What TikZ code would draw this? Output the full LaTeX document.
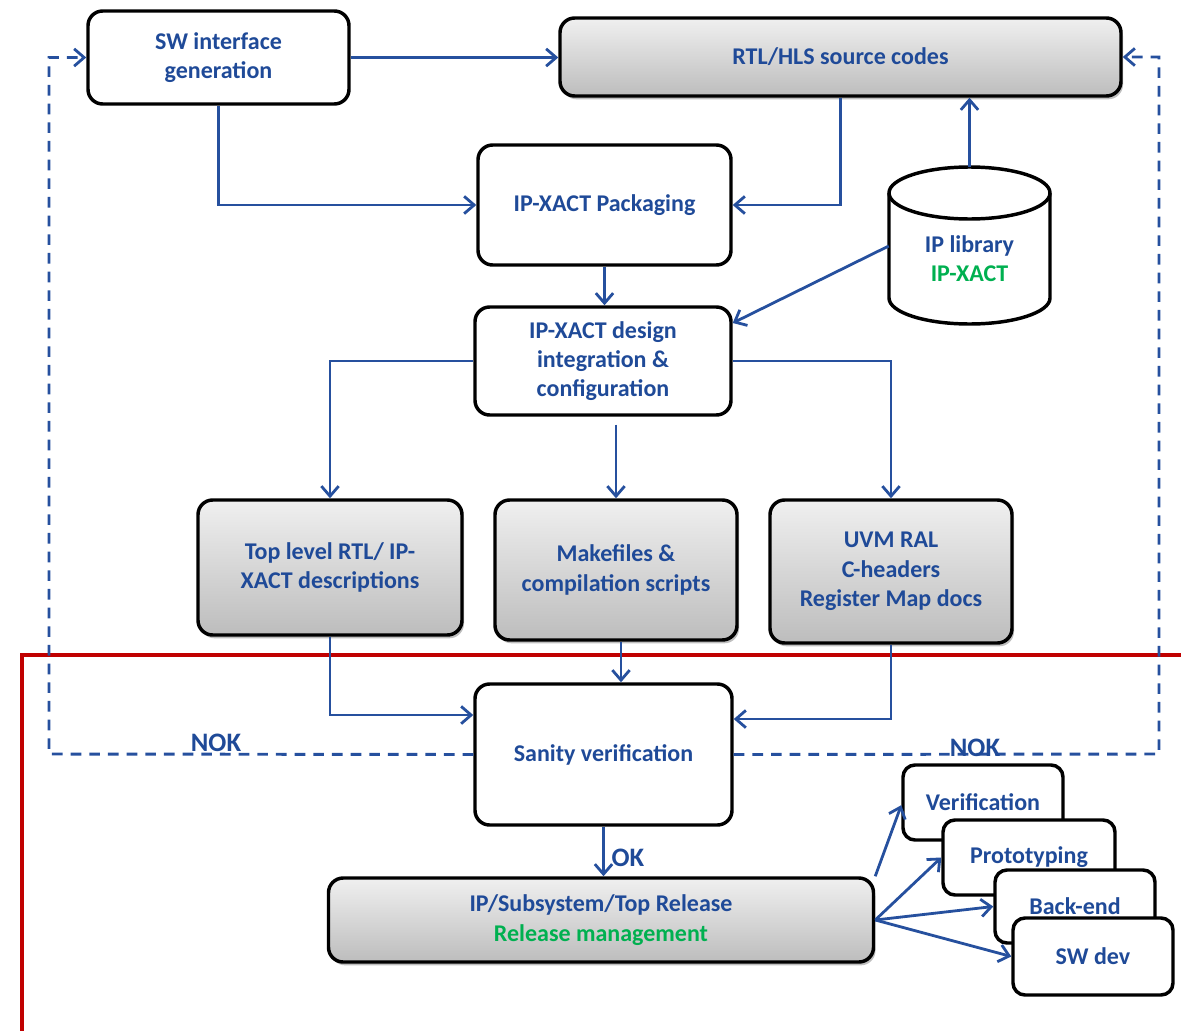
\documentclass[tikz,border=0pt]{standalone}
\usepackage{fontspec}
\setmainfont{Carlito}
\usetikzlibrary{arrows.meta,shadows,calc}
\definecolor{tblue}{HTML}{1F4A98}
\definecolor{lblue}{HTML}{26509E}
\definecolor{tgreen}{HTML}{00B050}
\definecolor{tred}{HTML}{C00000}
\begin{document}
\begin{tikzpicture}[x=0.75pt,y=-0.75pt,
  sz/.style 2 args={minimum width=#1*0.75pt, minimum height=#2*0.75pt},
  box/.style={draw=black, line width=2.6pt, rounded corners=11pt, fill=white,
    text=tblue, font=\fontsize{18}{22}\selectfont\bfseries, align=center, inner sep=0pt},
  gbox/.style={box, top color=gray!12, bottom color=gray!52,
    drop shadow={shadow xshift=1.5pt, shadow yshift=-2.5pt, fill=black, opacity=0.25}},
  sbox/.style={box, rounded corners=9pt},
  arr/.style={lblue, line width=2.1pt, -{Straight Barb[length=7.5pt,width=13pt,line width=2.1pt]}},
  dsh/.style={lblue, line width=2.2pt, dash pattern=on 8pt off 6pt, -{Straight Barb[length=7.5pt,width=13pt,line width=2.1pt]}},
  lbl/.style={text=tblue, font=\fontsize{20}{24}\selectfont\bfseries, inner sep=0pt, anchor=base}
]
\useasboundingbox (0,0) rectangle (1181,1031);

% red boundary
\draw[tred, line width=3pt] (22,1035) -- (22,655) -- (1185,655);

% nodes
\node[box, sz={261}{93}] (sw) at (218.5,57.5) {SW interface\\generation};
\node[gbox, sz={561}{78}] (rtl) at (840.5,57) {RTL/HLS source codes};
\node[box, sz={253}{120}] (pack) at (604.5,205) {IP-XACT Packaging};

% IP library cylinder
\node[sz={161}{157}, inner sep=0pt] (lib) at (969.5,246) {};
\draw[line width=2.6pt, fill=white] (889,193) -- (889,298)
  arc[start angle=180, end angle=360, x radius=60.375pt, y radius=19.5pt]
  -- (1050,193)
  arc[start angle=0, end angle=180, x radius=60.375pt, y radius=19.5pt] -- cycle;
\draw[line width=2.6pt] (889,193)
  arc[start angle=180, end angle=360, x radius=60.375pt, y radius=19.5pt];
\node[align=center, text=tblue, font=\fontsize{18}{22}\selectfont\bfseries, inner sep=0pt] (libtxt) at (969.5,258.5) {IP library\\\textcolor{tgreen}{IP-XACT}};

\node[box, sz={256}{108}] (des) at (603,361) {IP-XACT design\\integration \&\\configuration};
\node[gbox, sz={264}{135}] (top) at (330,567.5) {Top level RTL/ IP-\\XACT descriptions};
\node[gbox, sz={242}{140}] (make) at (616,570) {Makefiles \&\\compilation scripts};
\node[gbox, sz={242}{143}] (uvm) at (891,571.5) {UVM RAL\\C-headers\\Register Map docs};
\node[box, sz={257}{141}] (san) at (603.5,754.5) {Sanity verification};
\node[gbox, sz={545}{84}] (rel) at (601,920) {IP/Subsystem/Top Release\\\textcolor{tgreen}{Release management}};

\node[sbox, sz={160}{75}] (ver) at (983,802.5) {Verification};
\node[sbox, sz={172}{75}] (pro) at (1029,857.5) {Prototyping};
\node[sbox, sz={160}{73}] (back) at (1075,906.5) {Back-end};
\node[sbox, sz={160}{77}] (swd) at (1093,956.5) {SW dev};

% connectors
\draw[arr] (sw.east) -- (sw.east -| rtl.west);
\draw[arr] (sw.south) |- (pack.west);
\draw[arr] (rtl.south) |- (pack.east);
\draw[arr] (lib.north) -- (lib.north |- rtl.south);
\draw[arr] (lib.west) -- ([yshift=28.5pt]des.east);
\draw[arr] (pack.south) -- (pack.south |- des.north);
\draw[arr] (des.west) -| (top.north);
\draw[arr] ([yshift=-6pt]des.south -| make.north) -- (make.north);
\draw[arr] (des.east) -| (uvm.north);
\draw[arr] (top.south) |- ([yshift=29.6pt]san.west);
\draw[arr] ([xshift=3.75pt]make.south) -- ([xshift=3.75pt]make.south |- san.north);
\draw[arr] (uvm.south) |- ([yshift=26.6pt]san.east);
\draw[arr] (san.south) -- (san.south |- rel.north);

\draw[arr] (rel.north east) -- ([yshift=-2pt]ver.west);
\draw[arr] (rel.east) -- (pro.west);
\draw[arr] (rel.east) -- (back.west);
\draw[arr] (rel.east) -- (swd.west);

% NOK feedback loops
\coordinate (dl) at (49,754);
\coordinate (dr) at (1159,754);
\draw[dsh] (san.west) -- (dl) |- (sw.west);
\draw[dsh] (san.east) -- (dr) |- (rtl.east);

\node[lbl] (nok1) at (216,751) {NOK};
\node[lbl] (nok2) at (975,756) {NOK};
\node[lbl] (ok) at (628,866) {OK};
\end{tikzpicture}
\end{document}
